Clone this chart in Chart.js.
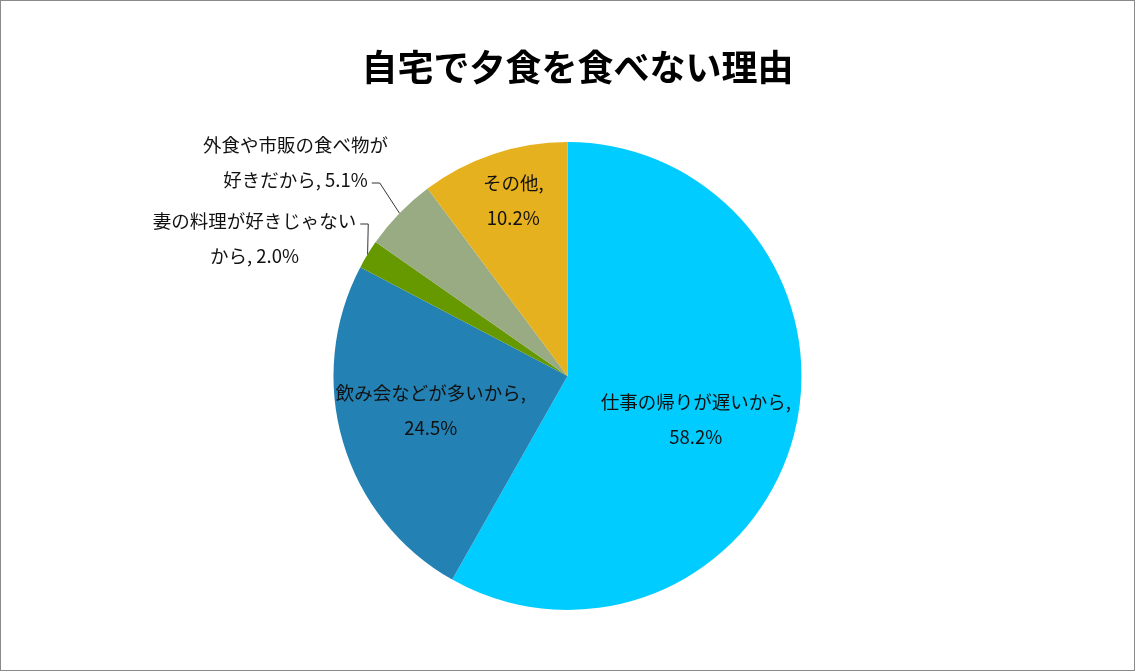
<!DOCTYPE html>
<html>
<head>
<meta charset="utf-8">
<script src="https://cdn.jsdelivr.net/npm/chart.js@4"></script>
<style>
  html, body { margin: 0; padding: 0; background: #fff; }
  #wrap { width: 1133px; height: 669px; border: 1px solid #8a8a8a; position: relative; }
  canvas { display: block; }
</style>
</head>
<body>
<div id="wrap"><canvas id="pieChart" width="1133" height="669"></canvas></div>
<script>
const chartTitle = "自宅で夕食を食べない理由";
const categories = ["仕事の帰りが遅いから", "飲み会などが多いから", "妻の料理が好きじゃないから", "外食や市販の食べ物が好きだから", "その他"];
const shares = [58.2, 24.5, 2.0, 5.1, 10.2];
const colors = ["#00CCFF", "#2381B3", "#669900", "#98AB83", "#E6B11E"];

// where each label sits; "in" = inside the slice, "out" = outside with a leader line
const labelLayout = [
  { mode: "in", f: 0.58, dx: -3, dy: 8, split: 11 },
  { mode: "in", f: 0.60, dx: -2, dy: -6, split: 11 },
  { mode: "out", tx: -313, ty: -138, split: 11 },
  { mode: "out", tx: -272, ty: -214, split: 10 },
  { mode: "in", f: 0.79, dx: 4, dy: -1, split: 4 }
];

const fontFamily = "'Noto Sans CJK JP', 'Noto Sans', sans-serif";

const pieLabels = {
  id: "pieLabels",
  afterDraw(chart) {
    const ctx = chart.ctx;
    ctx.save();
    ctx.fillStyle = "#000";
    ctx.textAlign = "center";
    ctx.textBaseline = "middle";
    ctx.font = "bold 36px " + fontFamily;
    ctx.fillText(chartTitle, chart.width / 2 + 10, 66);
    ctx.restore();
  },
  afterDatasetsDraw(chart) {
    const ctx = chart.ctx;
    const meta = chart.getDatasetMeta(0);
    ctx.save();
    ctx.font = "18.5px " + fontFamily;
    ctx.fillStyle = "#111";
    ctx.textAlign = "center";
    ctx.textBaseline = "middle";
    meta.data.forEach((arc, i) => {
      const p = arc.getProps(["x", "y", "startAngle", "endAngle", "outerRadius"], true);
      const mid = (p.startAngle + p.endAngle) / 2;
      const lay = labelLayout[i];
      const text = categories[i] + ", " + shares[i].toFixed(1) + "%";
      const lines = [text.slice(0, lay.split), text.slice(lay.split).trim()];
      let cx, cy;
      if (lay.mode === "in") {
        cx = p.x + Math.cos(mid) * p.outerRadius * lay.f + lay.dx;
        cy = p.y + Math.sin(mid) * p.outerRadius * lay.f + lay.dy;
      } else {
        cx = p.x + lay.tx;
        cy = p.y + lay.ty;
        // leader line: from the end of a text line to the slice edge
        const edgeX = p.x + Math.cos(mid) * p.outerRadius;
        const edgeY = p.y + Math.sin(mid) * p.outerRadius;
        const ref = i === 2 ? lines[0] : lines[1];
        const lineY = i === 2 ? cy - 14 : cy + 21;
        const startX = cx + ctx.measureText(ref).width / 2 + 4;
        ctx.strokeStyle = "#333";
        ctx.lineWidth = 1;
        ctx.beginPath();
        ctx.moveTo(startX, lineY);
        ctx.lineTo(startX + 8, lineY);
        ctx.lineTo(edgeX, edgeY);
        ctx.stroke();
      }
      ctx.fillText(lines[0], cx, cy - 17);
      ctx.fillText(lines[1], cx, cy + 18);
    });
    ctx.restore();
  }
};

new Chart(document.getElementById("pieChart"), {
  type: "pie",
  data: {
    labels: categories,
    datasets: [{
      data: shares,
      backgroundColor: colors,
      borderWidth: 0
    }]
  },
  options: {
    responsive: false,
    animation: false,
    layout: { padding: { top: 141, bottom: 60, left: 0, right: 0 } },
    plugins: {
      legend: { display: false },
      tooltip: { enabled: false },
      title: { display: false }
    }
  },
  plugins: [pieLabels]
});
</script>
</body>
</html>
